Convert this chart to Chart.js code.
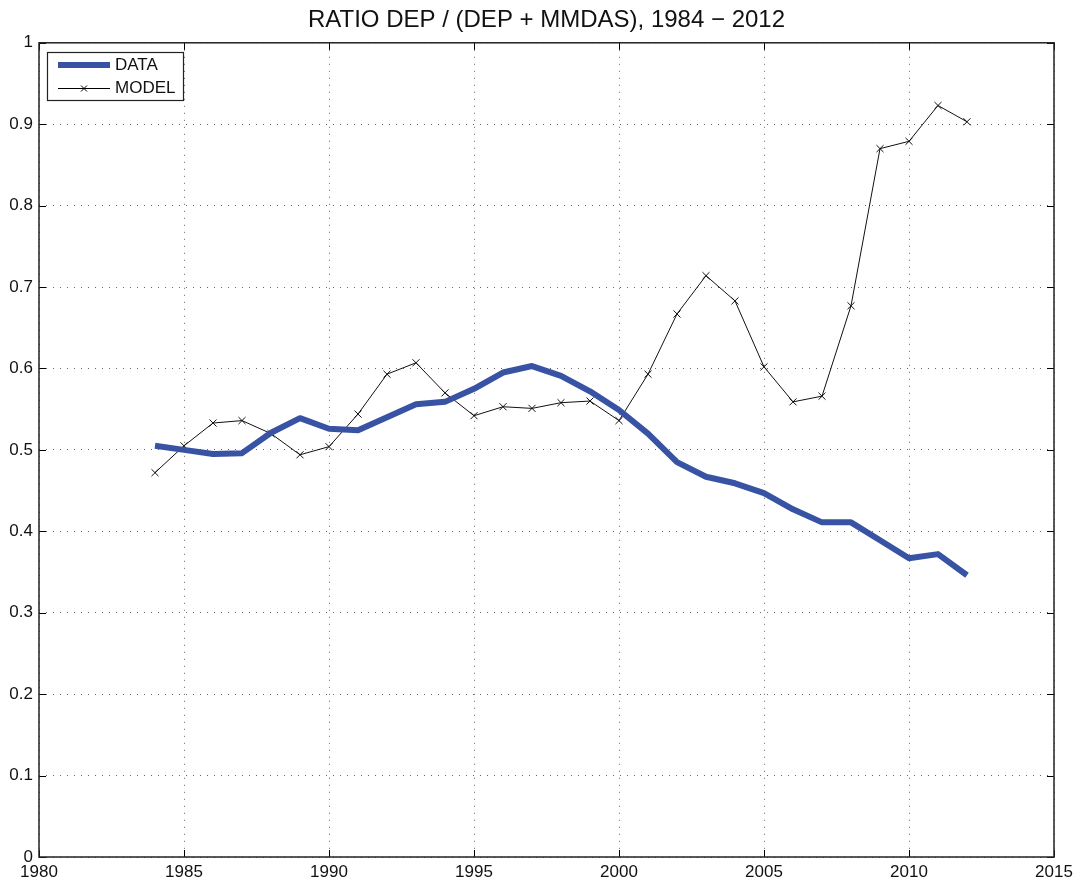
<!DOCTYPE html>
<html><head><meta charset="utf-8">
<script src="https://cdn.jsdelivr.net/npm/chart.js@4/dist/chart.umd.min.js"></script>
<style>html,body{margin:0;padding:0;background:#fff;}#wrap{width:1081px;height:886px;}</style>
</head><body><div id="wrap"><canvas id="c" width="1081" height="886"></canvas></div>
<script>
const years = [1984,1985,1986,1987,1988,1989,1990,1991,1992,1993,1994,1995,1996,1997,1998,1999,2000,2001,2002,2003,2004,2005,2006,2007,2008,2009,2010,2011,2012];
const dataValues = [0.505,0.500,0.495,0.496,0.521,0.539,0.526,0.524,0.540,0.556,0.559,0.575,0.595,0.603,0.591,0.572,0.549,0.520,0.485,0.467,0.459,0.447,0.427,0.411,0.411,0.389,0.367,0.372,0.346];
const modelValues = [0.472,0.505,0.533,0.536,0.520,0.494,0.504,0.544,0.593,0.607,0.570,0.542,0.553,0.551,0.558,0.560,0.536,0.593,0.667,0.714,0.683,0.602,0.559,0.566,0.677,0.870,0.879,0.923,0.903];
const xTicks = [1980,1985,1990,1995,2000,2005,2010,2015];
const yTicks = [0,0.1,0.2,0.3,0.4,0.5,0.6,0.7,0.8,0.9,1];
const titleText = 'RATIO DEP / (DEP + MMDAS), 1984 \u2212 2012';
const FONT = '"Liberation Sans", Arial, Helvetica, sans-serif';
const dataColor = '#3953a4';

const boxPlugin = {
  id: 'boxPlugin',
  afterDraw(chart) {
    const {ctx, chartArea: a, scales} = chart;
    ctx.save();
    ctx.strokeStyle = '#000';
    ctx.lineWidth = 1;
    ctx.beginPath();
    const tl = 7;
    xTicks.forEach(v => {
      const x = Math.round(scales.x.getPixelForValue(v)) + 0.5;
      ctx.moveTo(x, a.bottom); ctx.lineTo(x, a.bottom - tl);
      ctx.moveTo(x, a.top); ctx.lineTo(x, a.top + tl);
    });
    yTicks.forEach(v => {
      const y = Math.round(scales.y.getPixelForValue(v)) + 0.5;
      ctx.moveTo(a.left, y); ctx.lineTo(a.left + tl, y);
      ctx.moveTo(a.right, y); ctx.lineTo(a.right - tl, y);
    });
    ctx.stroke();
    ctx.lineWidth = 1.5;
    ctx.strokeStyle = '#222';
    ctx.strokeRect(a.left, a.top, a.right - a.left, a.bottom - a.top);
    // legend
    const lx = 47, ly = 52, lw = 136, lh = 48;
    ctx.fillStyle = '#fff';
    ctx.fillRect(lx, ly, lw, lh);
    ctx.lineWidth = 1.2;
    ctx.strokeStyle = '#222';
    ctx.strokeRect(lx + 0.5, ly + 0.5, lw, lh);
    const ds = chart.data.datasets;
    ctx.font = '17px ' + FONT;
    ctx.textBaseline = 'middle';
    ctx.fillStyle = '#111';
    ctx.strokeStyle = ds[0].borderColor;
    ctx.lineWidth = ds[0].borderWidth;
    ctx.beginPath(); ctx.moveTo(58, 65); ctx.lineTo(110, 65); ctx.stroke();
    ctx.fillText(ds[0].label, 115, 65);
    ctx.strokeStyle = '#000';
    ctx.lineWidth = 1;
    ctx.beginPath(); ctx.moveTo(58, 88.5); ctx.lineTo(110, 88.5); ctx.stroke();
    ctx.beginPath();
    ctx.moveTo(81, 85.5); ctx.lineTo(87, 91.5);
    ctx.moveTo(87, 85.5); ctx.lineTo(81, 91.5);
    ctx.stroke();
    ctx.fillText(ds[1].label, 115, 88);
    ctx.restore();
  }
};

new Chart(document.getElementById('c'), {
  type: 'line',
  data: {
    datasets: [
      {label: 'DATA', data: years.map((y,i)=>({x:y, y:dataValues[i]})), borderColor: dataColor, borderWidth: 6, pointRadius: 0, tension: 0, fill: false, borderJoinStyle: 'round', borderCapStyle: 'butt'},
      {label: 'MODEL', data: years.map((y,i)=>({x:y, y:modelValues[i]})), borderColor: '#111', borderWidth: 1, pointStyle: 'crossRot', pointRadius: 5, pointBorderWidth: 1, pointBorderColor: '#111', tension: 0, fill: false}
    ]
  },
  options: {
    responsive: false,
    animation: false,
    layout: {padding: {left: 0, right: 27, top: 0, bottom: 0}},
    plugins: {
      legend: {display: false},
      tooltip: {enabled: false},
      title: {display: true, fullSize: false, text: titleText, color: '#111', font: {family: FONT, size: 24, weight: 'normal', lineHeight: 1.2}, padding: {top: 6, bottom: 8}}
    },
    scales: {
      x: {
        type: 'linear', min: 1980, max: 2015,
        afterBuildTicks: s => { s.ticks = xTicks.map(v => ({value: v})); },
        afterFit: s => { s.height = 29; },
        ticks: {color: '#111', font: {family: FONT, size: 17}, padding: 5, maxRotation: 0, callback: v => String(v)},
        grid: {color: '#666', drawTicks: false, lineWidth: 1},
        border: {display: false, dash: [1, 6]}
      },
      y: {
        min: 0, max: 1,
        afterBuildTicks: s => { s.ticks = yTicks.map(v => ({value: v})); },
        afterFit: s => { s.width = 39; },
        ticks: {color: '#111', font: {family: FONT, size: 17}, padding: 6, callback: v => String(Math.round(v*10)/10)},
        grid: {color: '#666', drawTicks: false, lineWidth: 1},
        border: {display: false, dash: [1, 6]}
      }
    }
  },
  plugins: [boxPlugin]
});
</script>
</body></html>
